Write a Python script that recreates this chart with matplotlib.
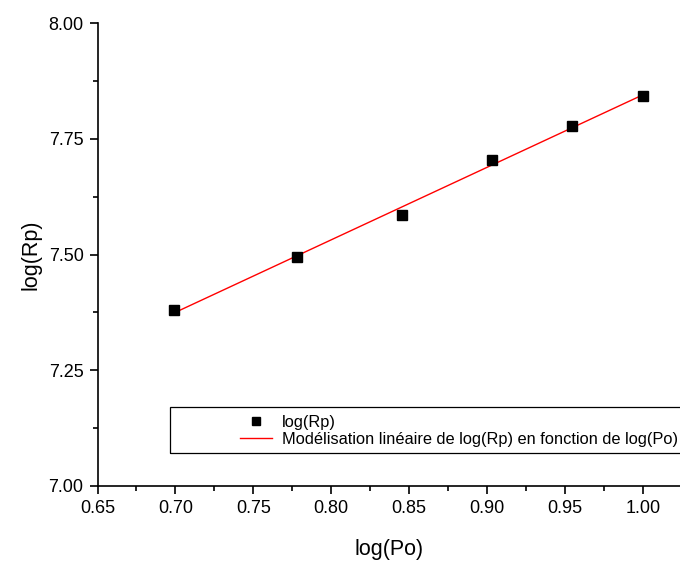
import numpy as np
import matplotlib
matplotlib.use("Agg")
import matplotlib.pyplot as plt
from matplotlib.patches import Rectangle
from matplotlib.ticker import MultipleLocator, FormatStrFormatter

plt.rcParams['font.family'] = ['Liberation Sans', 'DejaVu Sans']

log_po = [0.69897, 0.77815, 0.84510, 0.90309, 0.95424, 1.00000]
log_rp = [7.380, 7.495, 7.585, 7.705, 7.777, 7.843]
series_label = "log(Rp)"
fit_label = "Modélisation linéaire de log(Rp) en fonction de log(Po)"

W, H = 680, 563
fig = plt.figure(figsize=(W/100, H/100), dpi=100)
ax = fig.add_axes([97.5/W, 1-486/H, 1-97.5/W, (486-23)/H])

coef = np.polyfit(log_po, log_rp, 1)
xf = np.array([min(log_po), max(log_po)])
fit_line, = ax.plot(xf, np.polyval(coef, xf), color='red', lw=1.0, zorder=2)
pts, = ax.plot(log_po, log_rp, ls='none', marker='s', ms=6.8, color='black', zorder=3)

ax.set_xlim(0.65, 0.65 + (W-97.5)/1558.6)
ax.set_ylim(7.0, 8.0)
ax.xaxis.set_major_locator(MultipleLocator(0.05))
ax.xaxis.set_minor_locator(MultipleLocator(0.025))
ax.yaxis.set_major_locator(MultipleLocator(0.25))
ax.yaxis.set_minor_locator(MultipleLocator(0.125))
ax.xaxis.set_major_formatter(FormatStrFormatter('%.2f'))
ax.yaxis.set_major_formatter(FormatStrFormatter('%.2f'))
for s in ['top', 'right']:
    ax.spines[s].set_visible(False)
for s in ['left', 'bottom']:
    ax.spines[s].set_linewidth(1.2)
ax.tick_params(which='major', direction='out', length=6, width=1.2, labelsize=13, pad=4)
ax.tick_params(which='minor', direction='out', length=3.5, width=1.2)
ax.set_xlabel('log(Po)', fontsize=15.5, labelpad=16)
ax.set_ylabel('log(Rp)', fontsize=15.5, labelpad=5)

# legend frame
fig.patches.append(Rectangle((170/W, 1-453/H), 540/W, 46/H, transform=fig.transFigure,
                             fill=False, edgecolor='black', lw=0.9, clip_on=False))
leg = fig.legend([pts, fit_line], [series_label, fit_label], loc='upper left',
                 bbox_to_anchor=(232/W, 1-407/H), bbox_transform=fig.transFigure,
                 frameon=False, borderpad=0, fontsize=11.8, handlelength=1.95,
                 handletextpad=0.6, labelspacing=0.12, markerscale=0.85)

fig.savefig('out.png', dpi=100)
